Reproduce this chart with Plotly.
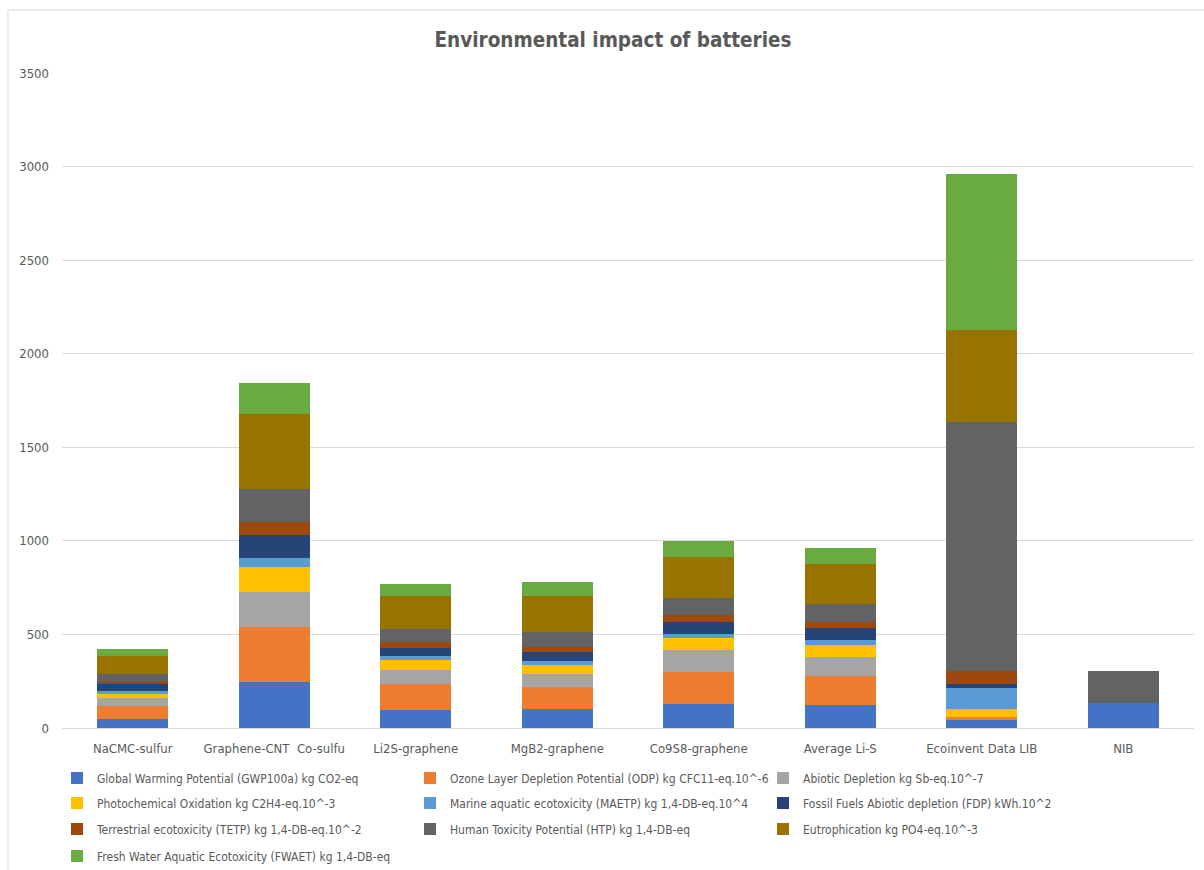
import plotly.graph_objects as go

categories = ["NaCMC-sulfur", "Graphene-CNT  Co-sulfu", "Li2S-graphene", "MgB2-graphene",
              "Co9S8-graphene", "Average Li-S", "Ecoinvent Data LIB", "NIB"]

series_names = [
    "Global Warming Potential (GWP100a) kg CO2-eq",
    "Ozone Layer Depletion Potential (ODP) kg CFC11-eq.10^-6",
    "Abiotic Depletion kg Sb-eq.10^-7",
    "Photochemical Oxidation kg C2H4-eq.10^-3",
    "Marine aquatic ecotoxicity (MAETP) kg 1,4-DB-eq.10^4",
    "Fossil Fuels Abiotic depletion (FDP) kWh.10^2",
    "Terrestrial ecotoxicity (TETP) kg 1,4-DB-eq.10^-2",
    "Human Toxicity Potential (HTP) kg 1,4-DB-eq",
    "Eutrophication kg PO4-eq.10^-3",
    "Fresh Water Aquatic Ecotoxicity (FWAET) kg 1,4-DB-eq",
]

gwp   = [50, 246, 94, 103, 126, 121, 48, 135]
odp   = [68, 292, 139, 114, 175, 159, 9, 0]
abio  = [43, 189, 78, 71, 116, 98, 0, 0]
photo = [23, 134, 55, 50, 62, 66, 46, 0]
maetp = [12, 50, 21, 18, 23, 25, 109, 0]
fdp   = [39, 119, 43, 48, 66, 64, 21, 0]
tetp  = [14, 69, 30, 28, 37, 36, 73, 0]
htp   = [41, 176, 71, 82, 91, 93, 1329, 171]
eutro = [94, 404, 173, 194, 216, 217, 492, 0]
fwaet = [36, 167, 64, 71, 86, 82, 833, 0]

series_values = [gwp, odp, abio, photo, maetp, fdp, tetp, htp, eutro, fwaet]

colors = ["#4472C4", "#ED7D31", "#A5A5A5", "#FFC000", "#5B9BD5",
          "#264478", "#9E480E", "#636363", "#997300", "#6AAB41"]

FONT = "DejaVu Sans Condensed, Liberation Sans Narrow, sans-serif"
TXT = "#595959"

W, H = 1204, 870
L, R, T, B = 62, 10, 73, 142
pw, ph = W - L - R, H - T - B

def px_x(p):
    return (p - L) / pw

def px_y(p):
    return (H - B - p) / ph

legend_ids = ["legend", "legend2", "legend3", "legend4"]
row_centers = [778, 803, 829, 856]

fig = go.Figure()
for i, (name, vals, col) in enumerate(zip(series_names, series_values, colors)):
    fig.add_trace(go.Bar(x=categories, y=vals, name=name,
                         legend=legend_ids[i // 3],
                         marker=dict(color=col, line=dict(width=0))))

legend_common = dict(orientation="h", xanchor="left", yanchor="middle",
                     entrywidth=308, entrywidthmode="pixels", traceorder="normal",
                     font=dict(size=12, color=TXT, family=FONT),
                     bgcolor="rgba(0,0,0,0)", borderwidth=0)

layout_legends = {}
for lid, yc in zip(legend_ids, row_centers):
    layout_legends[lid] = dict(legend_common, x=px_x(57), y=px_y(yc))

fig.update_layout(
    width=W, height=H,
    barmode="stack", bargap=0.5,
    paper_bgcolor="white", plot_bgcolor="white",
    margin=dict(l=L, r=R, t=T, b=B, autoexpand=False),
    font=dict(family=FONT, color=TXT, size=13),
    title=dict(text="<b>Environmental impact of batteries</b>",
               x=613 / W, xref="container", xanchor="center",
               y=1 - 40 / H, yref="container", yanchor="middle",
               font=dict(family=FONT, size=20.5, color=TXT)),
    xaxis=dict(showgrid=False, showline=True, linecolor="#D9D9D9", linewidth=1,
               ticks="", tickfont=dict(size=13, color=TXT), ticklabelstandoff=8),
    yaxis=dict(range=[0, 3500], dtick=500, showgrid=True, gridcolor="#D9D9D9",
               gridwidth=1, zeroline=False, showline=False, ticks="",
               tickfont=dict(size=13, color=TXT), ticklabelstandoff=12),
    shapes=[dict(type="rect", xref="paper", yref="paper",
                 x0=px_x(8), x1=px_x(1215), y0=px_y(885), y1=px_y(10),
                 line=dict(color="#D9D9D9", width=1), fillcolor="rgba(0,0,0,0)",
                 layer="below")],
    **layout_legends,
)

fig.write_html("out.html")
